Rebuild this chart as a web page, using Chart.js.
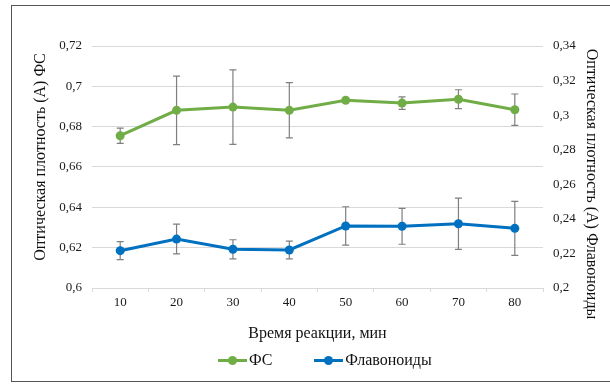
<!DOCTYPE html>
<html>
<head>
<meta charset="utf-8">
<script src="https://cdn.jsdelivr.net/npm/chart.js@4.4.1/dist/chart.umd.min.js"></script>
<style>
  html, body { margin: 0; padding: 0; background: #fff; }
  #wrap { position: relative; width: 610px; height: 385px; overflow: hidden; }
  #frame { position: absolute; left: 11px; top: 5px; width: 640px; height: 377px; border: 1.5px solid #555; box-sizing: border-box; }
  canvas { position: absolute; left: 0; top: 0; }
  #legend { position: absolute; left: 218px; top: 350px; display: flex; align-items: center; font-family: "Liberation Serif", "Times New Roman", serif; font-size: 16px; color: #111; }
  .item { display: flex; align-items: center; }
  .mk { position: relative; width: 29px; height: 20px; margin-right: 2px; }
  .mk .ln { position: absolute; left: 0; top: 8.5px; width: 29px; height: 3px; }
  .mk .dt { position: absolute; left: 10px; top: 5.5px; width: 9px; height: 9px; border-radius: 50%; }
</style>
</head>
<body>
<div id="wrap">
  <div id="frame"></div>
  <canvas id="c" width="610" height="385"></canvas>
  <div id="legend"></div>
</div>
<script>
const categories = ['10', '20', '30', '40', '50', '60', '70', '80'];
const fsValues   = [0.6755, 0.6881, 0.6897, 0.6881, 0.6931, 0.6917, 0.6936, 0.6884];
const fsErr      = [0.0038, 0.0170, 0.0185, 0.0137, 0.0000, 0.0031, 0.0047, 0.0078];
const flavValues = [0.2216, 0.2283, 0.2224, 0.2220, 0.2359, 0.2357, 0.2372, 0.2345];
const flavErr    = [0.0052, 0.0086, 0.0055, 0.0051, 0.0111, 0.0104, 0.0148, 0.0156];
const seriesNames = ['ФС', 'Флавоноиды'];
const xTitle = 'Время реакции, мин';
const leftTitle = 'Оптическая плотность (А) ФС';
const rightTitle = 'Оптическая плотность (А) Флавоноиды';

const GREEN = '#70AD47';
const BLUE = '#0070C0';
const FONT = '"Liberation Serif", "Times New Roman", serif';

const errorSets = [fsErr, flavErr];

const errorBarPlugin = {
  id: 'errorBars',
  beforeDatasetsDraw(chart) {
    const ctx = chart.ctx;
    ctx.save();
    ctx.strokeStyle = '#7f7f7f';
    ctx.lineWidth = 1.2;
    chart.data.datasets.forEach((ds, di) => {
      const meta = chart.getDatasetMeta(di);
      const yScale = chart.scales[ds.yAxisID];
      const errs = errorSets[di];
      meta.data.forEach((pt, i) => {
        const e = errs[i];
        if (!e) return;
        const v = ds.data[i];
        const x = pt.x;
        const yTop = yScale.getPixelForValue(v + e);
        const yBot = yScale.getPixelForValue(v - e);
        ctx.beginPath();
        ctx.moveTo(x, yTop); ctx.lineTo(x, yBot);
        ctx.moveTo(x - 3.5, yTop); ctx.lineTo(x + 3.5, yTop);
        ctx.moveTo(x - 3.5, yBot); ctx.lineTo(x + 3.5, yBot);
        ctx.stroke();
      });
    });
    ctx.restore();
  }
};

// vertical axis titles, placed as in the reference (slightly off-centre)
const axisTitlePlugin = {
  id: 'axisTitles',
  afterDraw(chart) {
    const ctx = chart.ctx;
    ctx.save();
    ctx.fillStyle = '#111';
    ctx.font = '16px ' + FONT;
    ctx.textAlign = 'center';
    ctx.textBaseline = 'middle';
    ctx.translate(41, 157);
    ctx.rotate(-Math.PI / 2);
    ctx.fillText(leftTitle, 0, 0);
    ctx.restore();
    ctx.save();
    ctx.fillStyle = '#111';
    ctx.font = '16px ' + FONT;
    ctx.textAlign = 'center';
    ctx.textBaseline = 'middle';
    ctx.translate(591, 184);
    ctx.rotate(Math.PI / 2);
    ctx.fillText(rightTitle, 0, 0);
    ctx.restore();
  }
};

const fmt = v => String(+Number(v).toFixed(2)).replace('.', ',');

new Chart(document.getElementById('c'), {
  type: 'line',
  data: {
    labels: categories,
    datasets: [
      { label: seriesNames[0], data: fsValues, yAxisID: 'y', borderColor: GREEN, backgroundColor: GREEN,
        borderWidth: 3, pointRadius: 4.5, pointHoverRadius: 4.5, pointBorderWidth: 0, tension: 0 },
      { label: seriesNames[1], data: flavValues, yAxisID: 'y1', borderColor: BLUE, backgroundColor: BLUE,
        borderWidth: 3, pointRadius: 4.5, pointHoverRadius: 4.5, pointBorderWidth: 0, tension: 0 }
    ]
  },
  options: {
    responsive: false,
    animation: false,
    events: [],
    layout: { padding: { top: 46, left: 0, right: 0, bottom: 37 } },
    plugins: { legend: { display: false }, tooltip: { enabled: false } },
    scales: {
      x: {
        offset: true,
        grid: { offset: true, drawOnChartArea: false, drawTicks: true, tickLength: 4, color: '#d9d9d9' },
        border: { display: true, color: '#d9d9d9', width: 1 },
        ticks: { color: '#1a1a1a', font: { family: FONT, size: 13 }, padding: 3, maxRotation: 0 },
        title: { display: true, text: xTitle, color: '#111', font: { family: FONT, size: 16 }, padding: { top: 0, bottom: 5 } },
        afterFit(s) { s.height = 60; }
      },
      y: {
        position: 'left', min: 0.6, max: 0.72,
        grid: { color: '#d9d9d9', drawTicks: false },
        border: { display: false },
        ticks: { stepSize: 0.02, color: '#1a1a1a', font: { family: FONT, size: 13 }, padding: 10, callback: fmt },
        title: { display: false, text: leftTitle },
        afterFit(s) { s.width = 92; }
      },
      y1: {
        position: 'right', min: 0.2, max: 0.34,
        grid: { display: false, drawTicks: false },
        border: { display: false },
        ticks: { stepSize: 0.02, color: '#1a1a1a', font: { family: FONT, size: 13 }, padding: 10, callback: fmt },
        title: { display: false, text: rightTitle },
        afterFit(s) { s.width = 67; }
      }
    }
  },
  plugins: [errorBarPlugin, axisTitlePlugin]
});

// HTML legend
const legend = document.getElementById('legend');
[[seriesNames[0], GREEN], [seriesNames[1], BLUE]].forEach(([name, col], i) => {
  const it = document.createElement('div');
  it.className = 'item';
  if (i > 0) it.style.marginLeft = '42px';
  it.innerHTML = '<span class="mk"><span class="ln" style="background:' + col + '"></span><span class="dt" style="background:' + col + '"></span></span><span></span>';
  it.lastChild.textContent = name;
  legend.appendChild(it);
});
</script>
</body>
</html>
